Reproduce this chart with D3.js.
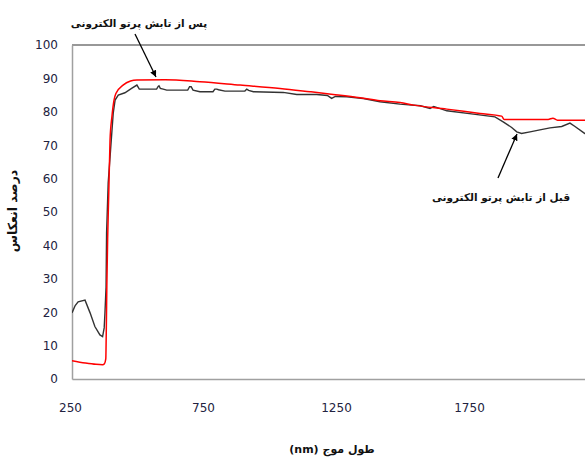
<!DOCTYPE html>
<html>
<head>
<meta charset="utf-8">
<script src="https://cdn.jsdelivr.net/npm/d3@7"></script>
<style>
  body { margin: 0; background: #fff; }
  .axis text { font-family: "DejaVu Sans", sans-serif; font-size: 12px; fill: #222240; }
  .fa { font-family: "DejaVu Sans", sans-serif; font-weight: bold; fill: #111; }
</style>
</head>
<body>
<div id="chart"></div>
<script>
// wavelength (nm) and reflectance (%)
var redNm  = [250, 300, 340, 365, 372, 377, 379, 381, 384, 388, 393, 400, 408, 415, 442, 470, 494, 600, 731, 882, 1032, 1145, 1232, 1333, 1408, 1483, 1535, 1659, 1784, 1865, 1875, 2040, 2058, 2075, 2300];
var redVal = [5.5, 4.8, 4.4, 4.3, 4.6, 6, 15, 28, 42, 55, 71.5, 78.5, 83.5, 85.5, 88, 89.2, 89.5, 89.6, 89.0, 88.0, 87.0, 86.0, 85.2, 84.2, 83.3, 82.8, 82.0, 80.8, 79.5, 78.7, 77.7, 77.7, 78.1, 77.5, 77.5];

var blackNm  = [250, 262, 273, 299, 318, 336, 355, 365, 371, 374, 378, 380, 386, 395, 405, 412, 424, 449, 474, 494, 503, 512, 568, 574, 577, 582, 593, 606, 685, 692, 698, 705, 731, 780, 787, 794, 801, 825, 900, 907, 914, 932, 1044, 1095, 1170, 1210, 1226, 1240, 1283, 1345, 1408, 1483, 1560, 1596, 1610, 1659, 1759, 1840, 1871, 1903, 1922, 1940, 1972, 2009, 2047, 2091, 2122, 2141, 2178, 2200];
var blackVal = [19.8, 22, 23.1, 23.6, 19.8, 15.7, 13.2, 12.7, 15.3, 20, 27.5, 43.7, 58.7, 68.6, 79.6, 83.5, 85, 85.7, 87, 88, 86.8, 86.8, 86.8, 87.6, 87.8, 87, 86.8, 86.5, 86.5, 87.5, 87.5, 86.5, 86.0, 86.0, 86.8, 86.8, 86.6, 86.2, 86.2, 86.8, 86.4, 86.0, 85.8, 85.2, 85.2, 84.9, 84.0, 84.6, 84.5, 84.0, 83.0, 82.3, 81.8, 81.0, 81.6, 80.3, 79.3, 78.5, 77.0, 75.3, 74.0, 73.5, 74.0, 74.6, 75.2, 75.6, 76.6, 75.6, 73.5, 72.8];

var xTicks = [250, 750, 1250, 1750];
var yTicks = [0, 10, 20, 30, 40, 50, 60, 70, 80, 90, 100];

var labelAfter  = "پس از تابش پرتو الکترونی";
var labelBefore = "قبل از تابش پرتو الکترونی";
var xTitle = "طول موج (nm)";
var yTitle = "درصد انعکاس";

var width = 585, height = 459;

var svg = d3.select("#chart").append("svg")
  .attr("width", width)
  .attr("height", height);

var x = d3.scaleLinear().domain([250, 2500]).range([72, 72 + 2250 * 0.266]);
var y = d3.scaleLinear().domain([0, 100]).range([379, 45]);

svg.append("defs").append("clipPath").attr("id", "plot")
  .append("rect").attr("x", 72).attr("y", 0).attr("width", width).attr("height", 380);

// top border at 100
svg.append("line")
  .attr("x1", x(250)).attr("x2", width)
  .attr("y1", y(100)).attr("y2", y(100))
  .attr("stroke", "#333").attr("stroke-width", 1.2);

var xAxis = svg.append("g").attr("class", "axis")
  .attr("transform", "translate(0," + y(0) + ")")
  .call(d3.axisBottom(x).tickValues(xTicks).tickSize(0).tickPadding(24).tickFormat(d3.format("d")));
xAxis.select(".domain").attr("stroke", "#a0a0a0").attr("stroke-width", 1.5);
xAxis.selectAll("text").attr("dx", -2);

var yAxis = svg.append("g").attr("class", "axis")
  .attr("transform", "translate(" + x(250) + ",0)")
  .call(d3.axisLeft(y).tickValues(yTicks).tickSize(0).tickPadding(14));
yAxis.select(".domain").attr("stroke", "#a0a0a0").attr("stroke-width", 1.5);

var line = d3.line()
  .x(function (d) { return x(d[0]); })
  .y(function (d) { return y(d[1]); });

var blackData = blackNm.map(function (d, i) { return [d, blackVal[i]]; });
var redData = redNm.map(function (d, i) { return [d, redVal[i]]; });

svg.append("path")
  .datum(blackData)
  .attr("clip-path", "url(#plot)")
  .attr("d", line)
  .attr("fill", "none")
  .attr("stroke", "#333")
  .attr("stroke-width", 1.4);

svg.append("path")
  .datum(redData)
  .attr("clip-path", "url(#plot)")
  .attr("d", line.curve(d3.curveMonotoneX))
  .attr("fill", "none")
  .attr("stroke", "#ff0000")
  .attr("stroke-width", 1.5);

// arrows
svg.append("defs").append("marker")
  .attr("id", "head")
  .attr("viewBox", "0 0 10 10")
  .attr("refX", 10).attr("refY", 5)
  .attr("markerWidth", 5).attr("markerHeight", 5)
  .attr("orient", "auto")
  .append("path").attr("d", "M0,0L10,5L0,10z").attr("fill", "#000");

svg.append("line")
  .attr("x1", 135).attr("y1", 34).attr("x2", 156).attr("y2", 77)
  .attr("stroke", "#000").attr("stroke-width", 1.3)
  .attr("marker-end", "url(#head)");

svg.append("line")
  .attr("x1", 498).attr("y1", 178).attr("x2", 517).attr("y2", 134)
  .attr("stroke", "#000").attr("stroke-width", 1.3)
  .attr("marker-end", "url(#head)");

svg.append("text").attr("class", "fa")
  .attr("x", 139).attr("y", 27)
  .attr("text-anchor", "middle")
  .style("font-size", "10.5px")
  .text(labelAfter);

svg.append("text").attr("class", "fa")
  .attr("x", 501).attr("y", 201)
  .attr("text-anchor", "middle")
  .style("font-size", "10.5px")
  .text(labelBefore);

svg.append("text").attr("class", "fa")
  .attr("x", 332).attr("y", 453)
  .attr("text-anchor", "middle")
  .attr("direction", "rtl")
  .style("font-size", "11px")
  .text(xTitle);

svg.append("text").attr("class", "fa")
  .attr("transform", "translate(17,211) rotate(-90)")
  .attr("text-anchor", "middle")
  .style("font-size", "12.5px")
  .text(yTitle);
</script>
</body>
</html>
